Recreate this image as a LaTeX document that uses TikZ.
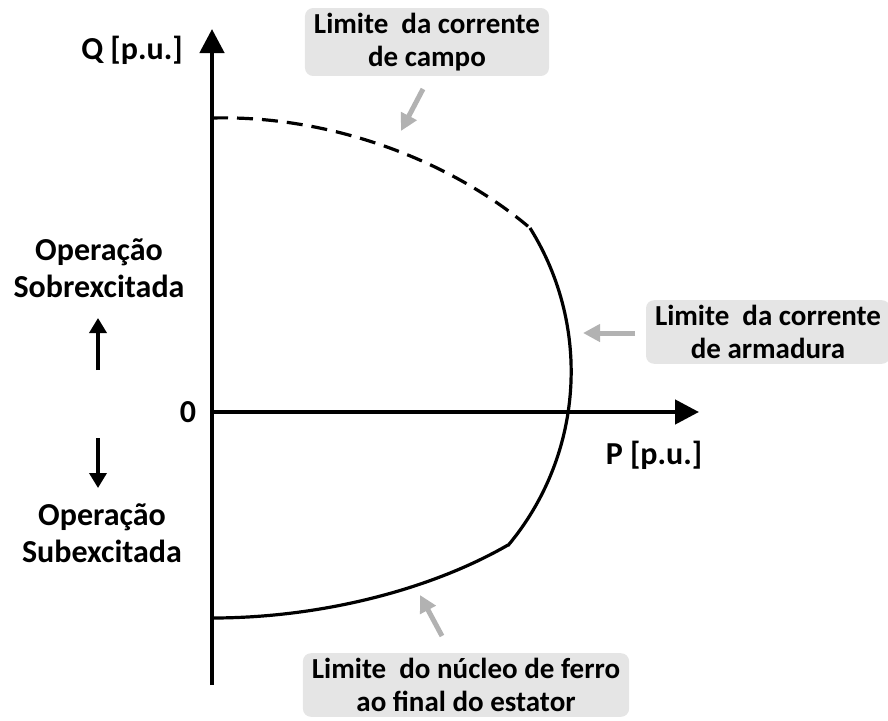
\documentclass[tikz,border=0pt]{standalone}
\usepackage{fontspec}
\setmainfont{Carlito}
\usepackage{tikz}
\usetikzlibrary{arrows.meta}
\tikzstyle{eixo}=[line width=4.5pt, -{Triangle[length=24pt,width=24pt]}]
\tikzstyle{limite}=[line width=3.2pt]
\tikzstyle{balao}=[rounded corners=8pt, fill=black!10, align=center, inner xsep=9pt, inner ysep=5pt, font=\fontsize{29}{33}\selectfont\bfseries]
\tikzstyle{rotulo}=[align=center, font=\fontsize{32}{37}\selectfont\bfseries]
\tikzstyle{seta}=[draw=black!30, line width=5pt, -{Triangle[length=17pt,width=17pt]}]
\tikzstyle{setaop}=[line width=3.5pt, -{Triangle[length=15pt,width=17pt]}]

\begin{document}
\begin{tikzpicture}[x=1pt, y=-1pt]
				\useasboundingbox (0, 0) rectangle (888, 720);
				% eixos
				\coordinate (O) at (212, 412);
				\coordinate (qbase) at (212, 685);
				\coordinate (qtopo) at (212, 29);
				\coordinate (pfim) at (699, 412);
				\draw[eixo] (qbase) -- (qtopo);
				\draw[eixo] (O) -- (pfim);
				\node[rotulo] (q) at (132, 50) {Q [p.u.]};
				\node[rotulo] (p) at (654, 455) {P [p.u.]};
				\node[rotulo] (zero) at (188, 412) {0};
				% curvas de limite
				\coordinate (c0) at (212, 118);
				\coordinate (c1) at (530, 228);
				\coordinate (c2) at (508, 545);
				\coordinate (c3) at (212, 618);
				\draw[limite, dash pattern=on 16pt off 9pt] (c0) .. controls (330, 115) and (450, 160) .. (c1);
				\draw[limite] (c1) arc[start angle=-32, end angle=40, radius=271];
				\draw[limite] (c3) .. controls (320, 618) and (430, 590) .. (c2);
				% baloes
				\node[balao] (campo) at (427, 42) {Limite~ da corrente\\de campo};
				\node[balao] (armadura) at (768, 332) {Limite~ da corrente\\de armadura};
				\node[balao] (ferro) at (466, 685) {Limite~ do núcleo de ferro\\ao final do estator};
				\coordinate (s1) at (423, 89);
				\coordinate (t1) at (401, 131);
				\coordinate (s2) at (635, 333);
				\coordinate (t2) at (583, 333);
				\coordinate (s3) at (442, 636);
				\coordinate (t3) at (420, 595);
				\draw[seta] (s1) -- (t1);
				\draw[seta] (s2) -- (t2);
				\draw[seta] (s3) -- (t3);
				% operacao
				\node[rotulo] (sobre) at (99, 268) {Operação\\Sobrexcitada};
				\node[rotulo] (sub) at (102, 533) {Operação\\Subexcitada};
				\coordinate (a0) at (98, 370);
				\coordinate (a1) at (98, 318);
				\coordinate (b0) at (98, 438);
				\coordinate (b1) at (98, 488);
				\draw[setaop] (a0) -- (a1);
				\draw[setaop] (b0) -- (b1);
			\end{tikzpicture}
\end{document}
